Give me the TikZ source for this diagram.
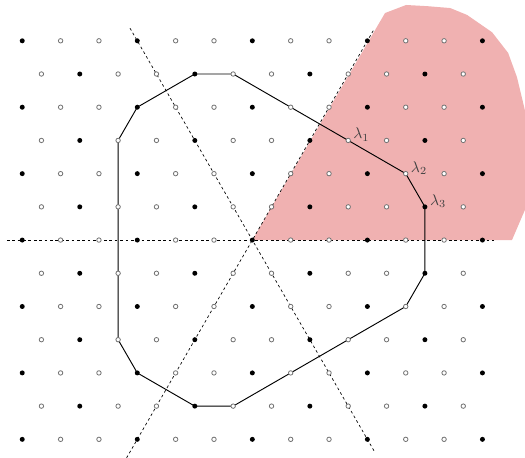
\documentclass[tikz,border=0pt]{standalone}
\definecolor{pinkfill}{RGB}{240,177,177}
\begin{document}
\begin{tikzpicture}[x=1cm,y=1cm,
  guide/.style={dash pattern=on 2pt off 2pt, line width=0.5pt, black},
  hull/.style={line width=0.7pt, black, line join=round},
  blackdot/.style={fill=black},
  greydot/.style={draw=black!55, fill=white, line width=0.6pt},
  lab/.style={anchor=south west, inner sep=1pt, xshift=2.5pt, yshift=-2pt, text=black!75, scale=1.15}]
\useasboundingbox (-6.58,-5.66) rectangle (7.11,6.26);
\clip (-6.58,-5.66) rectangle (7.11,6.26);
% shaded region
\fill[pinkfill] (0,0) -- (3.46,5.92) -- (4.01,6.13) -- (4.55,6.10) -- (5.16,6.05)
  -- (5.60,5.87) -- (6.25,5.42) -- (6.67,4.88) -- (6.90,4.25) -- (7.2,3.0)
  -- (7.2,1.0) -- (6.77,0) -- cycle;
% guide lines through the origin
\coordinate (O) at (0,0);
\coordinate (h1) at (-6.4,0);
\coordinate (h2) at (6.3,0);
\coordinate (d1) at (240:6.7);
\coordinate (d2) at (60:6.35);
\coordinate (e1) at (120:6.38);
\coordinate (e2) at (300:6.38);
\draw[guide] (h1) -- (h2);
\draw[guide] (d1) -- (d2);
\draw[guide] (e1) -- (e2);
% polygon
\coordinate (p1) at (-1.5,{5*sqrt(3)/2});
\coordinate (p2) at (-0.5,{5*sqrt(3)/2});
\coordinate (L1) at (2.5,{3*sqrt(3)/2});
\coordinate (L2) at (4,{2*sqrt(3)/2});
\coordinate (L3) at (4.5,{sqrt(3)/2});
\coordinate (p6) at (4.5,{-sqrt(3)/2});
\coordinate (p7) at (4,{-2*sqrt(3)/2});
\coordinate (p8) at (-0.5,{-5*sqrt(3)/2});
\coordinate (p9) at (-1.5,{-5*sqrt(3)/2});
\coordinate (p10) at (-3,{-4*sqrt(3)/2});
\coordinate (p11) at (-3.5,{-3*sqrt(3)/2});
\coordinate (p12) at (-3.5,{3*sqrt(3)/2});
\coordinate (p13) at (-3,{4*sqrt(3)/2});
\draw[hull] (p1) -- (p2) -- (L1) -- (L2) -- (L3) -- (p6) -- (p7) -- (p8)
  -- (p9) -- (p10) -- (p11) -- (p12) -- (p13) -- cycle;
% lattice points
\foreach \j in {-6,...,6}{
  \foreach \i in {-12,...,12}{
    \pgfmathsetmacro\xx{\i+\j/2}
    \pgfmathsetmacro\yy{\j*sqrt(3)/2}
    \pgfmathtruncatemacro\m{mod(\i-\j+60,3)}
    \pgfmathtruncatemacro\inside{abs(\xx)<6.1 ? 1 : 0}
    \ifnum\inside=1
      \ifnum\m=0
        \fill[blackdot] (\xx,\yy) circle (0.065);
      \else
        \filldraw[greydot] (\xx,\yy) circle (0.058);
      \fi
    \fi
  }
}
% labels
\node[lab] (l1) at (L1) {$\lambda_1$};
\node[lab] (l2) at (L2) {$\lambda_2$};
\node[lab] (l3) at (L3) {$\lambda_3$};
\end{tikzpicture}
\end{document}
